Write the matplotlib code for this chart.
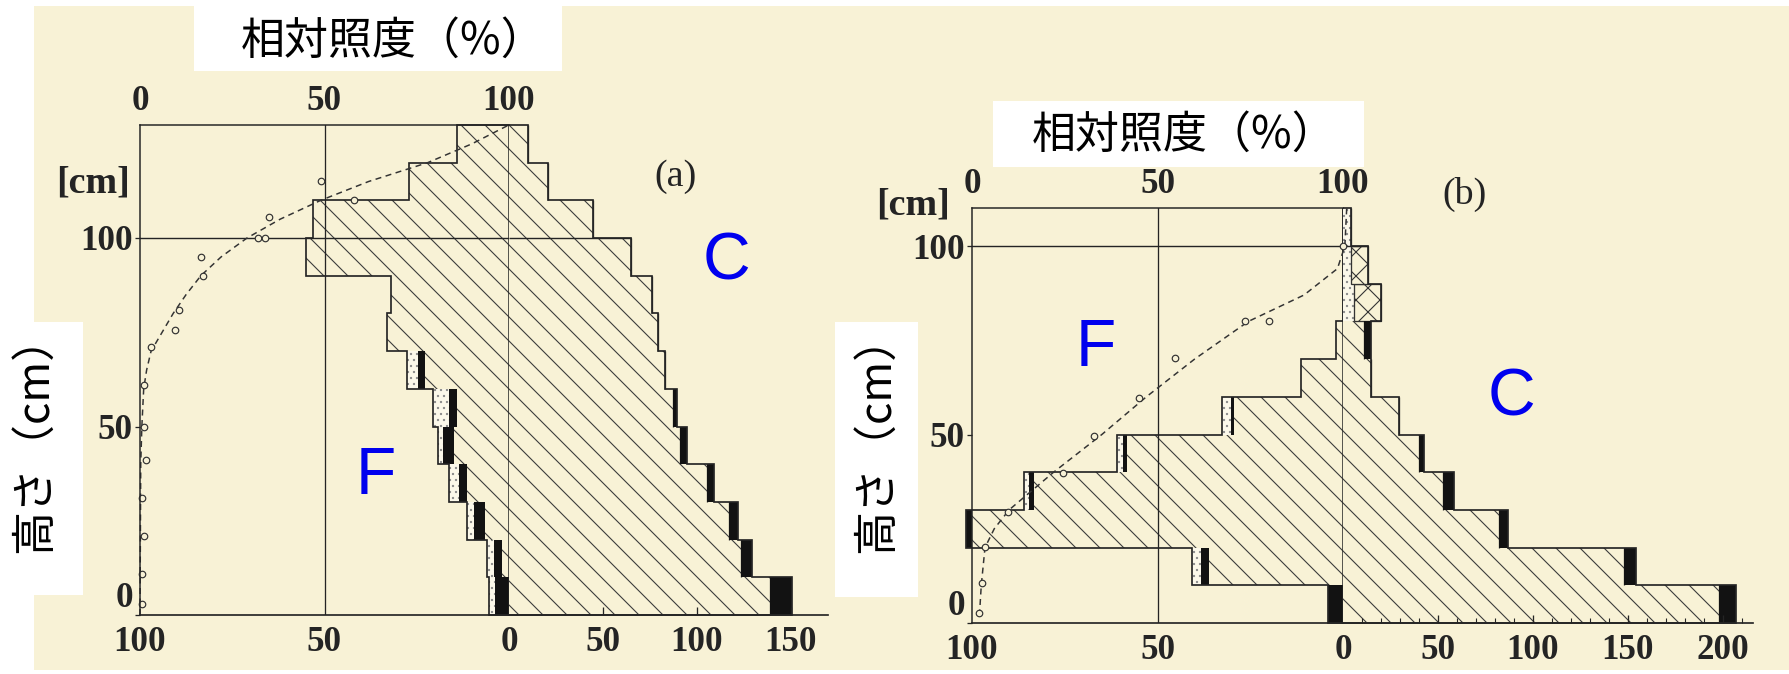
import numpy as np
import matplotlib.pyplot as plt
from matplotlib.patches import Rectangle

W, H, DPI = 1789, 674, 72
CREAM = '#f8f2d6'
PALE = '#fbf8ea'
INK = '#242424'
HATCH = '#3c3c3c'
plt.rcParams['font.family'] = 'Liberation Serif'
plt.rcParams['font.weight'] = 'bold'
plt.rcParams['hatch.linewidth'] = 1.1

# ---------------- (a): layers of 10 cm, bottom -> top ----------------
edges_a = [0, 10, 20, 30, 40, 50, 60, 70, 80, 90, 100, 110, 120, 130]
Fa_leaf = [0, 1.8, 6.4, 11.3, 14.8, 14.2, 22.8, 33, 32, 55, 53, 27, 14]
Fa_black = [3.8, 2.2, 3.1, 2.2, 3.1, 2.0, 1.8, 0, 0, 0, 0, 0, 0]
Fa_dot = [1.7, 1.9, 1.8, 2.7, 1.3, 4.3, 3.1, 0, 0, 0, 0, 0, 0]
Ca_stem = [139.3, 123.5, 117, 105.3, 91, 87.5, 83, 79.4, 76, 65, 45, 21, 10]
Ca_dot = [0] * 13
Ca_cross = [0] * 13
Ca_black = [11.7, 6, 5, 3.7, 4, 2, 0, 0, 0, 0, 0, 0, 0]

# relative light (%) measured at height (cm)
La_pt_h = [3, 11, 21, 31, 41, 50, 61, 71, 75.5, 81, 90, 95, 100, 100, 105.5, 110, 115]
La_pt = [0.5, 0.5, 1, 0.5, 1.5, 1, 1, 3, 9.5, 10.5, 17, 16.5, 32, 34, 35, 58, 49]
La_cv_h = [0, 40, 50, 60, 65, 70, 75, 80, 85, 90, 95, 100, 105, 110, 115, 120, 125, 130]
La_cv = [0, 0.2, 0.5, 1, 1.8, 3, 6, 9, 12.5, 16.5, 22, 29, 38, 49, 62, 78, 90, 100]

# ---------------- (b) ----------------
edges_b = [0, 10, 20, 30, 40, 50, 60, 70, 80, 90, 100, 110]
Fb_leaf = [0, 36, 100, 83.4, 58.3, 29.5, 11.2, 1.9, 0, 0, 0]
Fb_black = [4, 2.3, 1.6, 1.2, 1.0, 0.8, 0, 0, 0, 0, 0]
Fb_dot = [0, 2.4, 0, 1.3, 1.5, 2.2, 0, 0, 0, 0, 0]
Cb_stem = [197.8, 148, 82.2, 52.6, 40.2, 29.6, 14.7, 11, 0, 0, 0]
Cb_dot = [0, 0, 0, 0, 0, 0, 0, 0, 6, 4, 4]
Cb_cross = [0, 0, 0, 0, 0, 0, 0, 0, 14, 9, 0]
Cb_black = [9, 6, 4.5, 6, 2.6, 0, 0, 3.5, 0, 0, 0]

Lb_pt_h = [2.6, 10.5, 20.2, 29.5, 39.7, 49.6, 59.8, 70.2, 80, 80, 100]
Lb_pt = [2, 2.6, 3.5, 9.8, 24.5, 33, 44.9, 54.7, 73.6, 80, 100]
Lb_cv_h = [2, 10, 20, 25, 30, 40, 50, 60, 70, 80, 87, 94, 100, 110]
Lb_cv = [2, 2.5, 3.5, 6, 10, 22, 35, 47, 60, 74.5, 89.5, 98.5, 100.5, 101]

light_ticks = [0, 50, 100]
height_ticks = [0, 50, 100]
f_ticks = [100, 50, 0]
ca_ticks = [50, 100, 150]
cb_ticks = [50, 100, 150, 200]
cb_minor = np.arange(10, 211, 10)

LABEL = 35
fig = plt.figure(figsize=(W / DPI, H / DPI), dpi=DPI, facecolor=CREAM)


def px_axes(x0, x1, y_top, y_bot, z=1):
    ax = fig.add_axes([x0 / W, 1 - y_bot / H, (x1 - x0) / W, (y_bot - y_top) / H])
    ax.patch.set_visible(False)
    ax.set_zorder(z)
    for s in ax.spines.values():
        s.set_visible(False)
    return ax


def draw_panel(x0, x_zero, c_px, y_top, y_bot, c_max, edges, F, C, pts, curve,
               c_ticks, c_minor=None):
    edges = np.asarray(edges, float)
    h_top = edges[-1]
    mid = (edges[:-1] + edges[1:]) / 2
    hgt = np.diff(edges)

    ax_f = px_axes(x0, x_zero, y_top, y_bot)
    ax_f.set_xlim(100, 0)
    ax_f.set_ylim(0, h_top)
    ax_c = px_axes(x_zero, x_zero + c_max * c_px, y_top, y_bot)
    ax_c.set_xlim(0, c_max)
    ax_c.set_ylim(0, h_top)
    ax_l = px_axes(x0, x_zero, y_top, y_bot, z=3)
    ax_l.set_xlim(0, 100)
    ax_l.set_ylim(0, h_top)

    # photosynthetic part (left)
    leaf, black, dot = (np.asarray(a, float) for a in F)
    kw = dict(height=hgt, clip_on=False)
    ax_f.barh(mid, leaf, left=0, color=CREAM, edgecolor=HATCH, lw=0, hatch='\\', **kw)
    ax_f.barh(mid, black, left=leaf, color='#121212', lw=0, **kw)
    ax_f.barh(mid, dot, left=leaf + black, color=PALE, edgecolor='#8c8c8c', lw=0,
              hatch='..', **kw)
    ax_f.stairs(leaf + black + dot, edges, orientation='horizontal', color=INK,
                lw=1.7, clip_on=False)

    # non-photosynthetic part (right)
    stem, cdot, cross, cblack = (np.asarray(a, float) for a in C)
    ax_c.barh(mid, stem, left=0, color=CREAM, edgecolor=HATCH, lw=0, hatch='\\', **kw)
    ax_c.barh(mid, cdot, left=stem, color=PALE, edgecolor='#8c8c8c', lw=0, hatch='..', **kw)
    ax_c.barh(mid, cross, left=stem + cdot, color=CREAM, edgecolor='#333333', lw=1.3,
              hatch='x', **kw)
    ax_c.barh(mid, cblack, left=stem + cdot + cross, color='#121212', lw=0, **kw)
    c_total = stem + cdot + cross + cblack
    ax_c.stairs(c_total, edges, orientation='horizontal', color=INK, lw=1.7, clip_on=False)
    ax_c.hlines(100, 0, c_total[mid < 100][-1], color=INK, lw=1.4)

    # bottom axes: F to the left of 0, C to the right
    ax_f.spines['bottom'].set_visible(True)
    ax_c.spines['bottom'].set_visible(True)
    for ax in (ax_f, ax_c):
        ax.spines['bottom'].set_linewidth(1.7)
        ax.spines['bottom'].set_color(INK)
        ax.set_yticks([])
    ax_f.set_xticks(f_ticks)
    ax_f.tick_params(axis='x', length=0, pad=11, labelsize=LABEL, labelcolor=INK)
    ax_c.set_xticks(c_ticks)
    if c_minor is not None:
        ax_c.set_xticks(c_minor, minor=True)
    ax_c.tick_params(axis='x', which='major', direction='in', length=8, width=1.3,
                     color=INK, pad=11, labelsize=LABEL, labelcolor=INK)
    ax_c.tick_params(axis='x', which='minor', direction='in', length=5, width=1.1, color=INK)

    # relative light frame
    for s in ('left', 'top'):
        ax_l.spines[s].set_visible(True)
        ax_l.spines[s].set_linewidth(1.5)
        ax_l.spines[s].set_color(INK)
    ax_l.xaxis.tick_top()
    ax_l.set_xticks(light_ticks)
    ax_l.tick_params(axis='x', length=0, pad=7, labelsize=LABEL, labelcolor=INK)
    ax_l.set_yticks(height_ticks)
    ax_l.tick_params(axis='y', length=5, width=1.3, color=INK, pad=2, labelsize=LABEL,
                     labelcolor=INK)
    ax_l.get_yticklabels()[0].set_va('bottom')
    ax_l.axvline(50, color=INK, lw=1.3)
    ax_l.axvline(100, color=INK, lw=1.5)
    ax_l.axhline(100, color=INK, lw=1.4)

    cv_h, cv_L = curve
    pt_h, pt_L = pts
    ax_l.plot(cv_L, cv_h, ls=(0, (4, 3)), color='#333333', lw=1.5, clip_on=False)
    ax_l.plot(pt_L, pt_h, 'o', ms=6.5, mfc=CREAM, mec='#333333', mew=1.2, clip_on=False)
    return ax_l


draw_panel(140, 509, 1.877, 615 - 130 * 3.77, 615, 170, edges_a,
           (Fa_leaf, Fa_black, Fa_dot), (Ca_stem, Ca_dot, Ca_cross, Ca_black),
           (La_pt_h, La_pt), (La_cv_h, La_cv), ca_ticks)
draw_panel(972, 1343, 1.9, 623 - 110 * 3.77, 623, 216, edges_b,
           (Fb_leaf, Fb_black, Fb_dot), (Cb_stem, Cb_dot, Cb_cross, Cb_black),
           (Lb_pt_h, Lb_pt), (Lb_cv_h, Lb_cv), cb_ticks, cb_minor)


def ftext(x, y, s, **kw):
    fig.text(x / W, 1 - y / H, s, ha='center', va='center', **kw)


def white_box(x0, y0, x1, y1):
    fig.add_artist(Rectangle((x0 / W, 1 - y1 / H), (x1 - x0) / W, (y1 - y0) / H,
                             transform=fig.transFigure, facecolor='white',
                             edgecolor='none', zorder=5))


# page margins of the scan
white_box(0, 0, 34, H)
white_box(0, 0, W, 6)
white_box(0, 670, W, H)

ftext(93, 183, '[cm]', fontsize=38, color=INK)
ftext(913, 205, '[cm]', fontsize=38, color=INK)
ftext(676, 177, '(a)', fontsize=38, color=INK, weight='normal')
ftext(1464, 194, '(b)', fontsize=38, color=INK, weight='normal')

jp = ['Noto Sans CJK JP', 'DejaVu Sans']
white_box(194, 0, 562, 71)
ftext(393, 41, '相対照度（%）', fontsize=44, family=jp, weight='normal', color='black', zorder=6)
white_box(993, 101, 1364, 167)
ftext(1184, 135, '相対照度（%）', fontsize=44, family=jp, weight='normal', color='black', zorder=6)
white_box(0, 322, 83, 595)
ftext(34, 433, '高さ（cm）', fontsize=44, family=jp, weight='normal', rotation=90,
      color='black', zorder=6)
white_box(835, 322, 918, 597)
ftext(876, 433, '高さ（cm）', fontsize=44, family=jp, weight='normal', rotation=90,
      color='black', zorder=6)

blue = dict(fontsize=66, family='Liberation Sans', weight='normal', color='#0000ee', zorder=6)
ftext(376, 477, 'F', **blue)
ftext(726, 263, 'C', **blue)
ftext(1096, 349, 'F', **blue)
ftext(1511, 399, 'C', **blue)

fig.savefig('out.png', dpi=DPI, facecolor=CREAM)
